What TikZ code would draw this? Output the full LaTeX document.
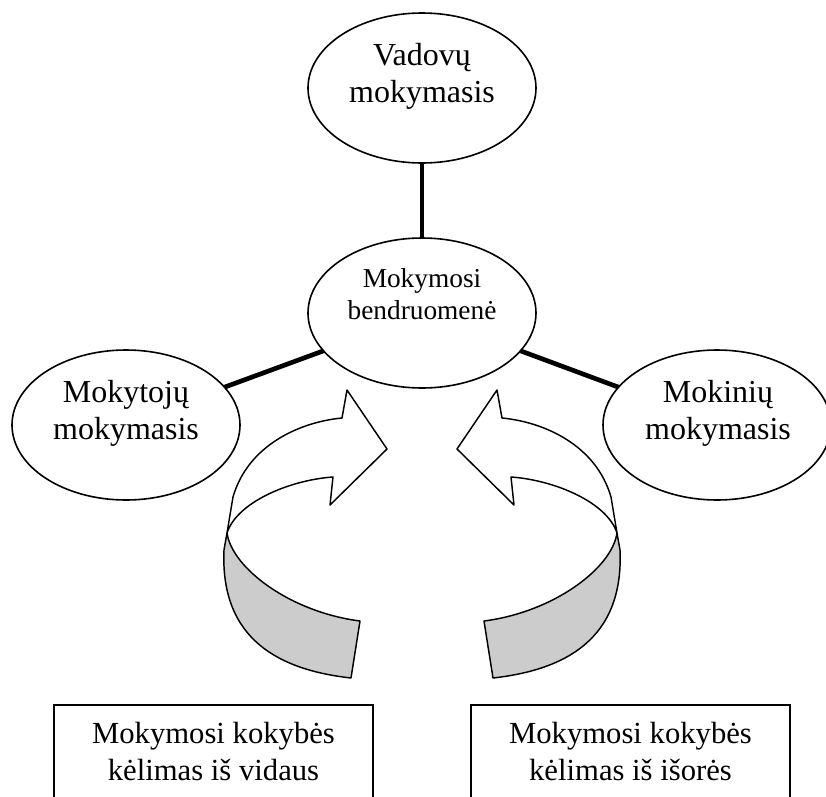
\documentclass[tikz,border=0pt]{standalone}
\usepackage{fontspec}
\setmainfont{Liberation Serif}
\usetikzlibrary{shapes.geometric}

\definecolor{bandgray}{gray}{0.8}

% curved ribbon arrow, axis at x = 0
\newcommand{\curvedarrow}{%
    \filldraw [ribbon, fill=bandgray] ( -195, 533 ) .. controls ( -190, 568 ) and ( -132, 612 ) .. ( -62, 621 )
        -- ( -71, 678 ) .. controls ( -142, 670 ) and ( -202, 640 ) .. ( -198, 550 ) -- cycle;
    \filldraw [ribbon, fill=white] ( -80, 418 ) .. controls ( -122, 422 ) and ( -174, 445 ) .. ( -189, 497 )
        -- ( -195, 533 ) .. controls ( -185, 502 ) and ( -132, 480 ) .. ( -89, 477 )
        -- ( -92, 505 ) -- ( -35, 449 ) -- ( -75, 390 ) -- cycle;
}

\begin{document}
\begin{tikzpicture}[x=0.75pt, y=-0.75pt,
    bubble/.style={draw, ellipse, line width=1.2pt, minimum width=171pt, minimum height=112.5pt, inner sep=0pt, outer sep=0pt},
    bigtext/.style={align=center, inner sep=0pt, font=\fontsize{24}{27.75}\selectfont},
    smalltext/.style={align=center, inner sep=0pt, font=\fontsize{20.5}{24}\selectfont},
    link/.style={line width=3.5pt},
    ribbon/.style={line width=1.1pt, line join=round},
    qbox/.style={draw, line width=1.1pt, minimum width=239.25pt, anchor=north, align=center, inner xsep=0pt, inner ysep=12.8pt, outer sep=0pt, font=\fontsize{23}{27.75}\selectfont}]
    \useasboundingbox ( 0, 0 ) rectangle ( 826, 797 );
    \clip ( 0, 0 ) rectangle ( 826, 797 );

    % elipses
    \node [bubble] (vad) at ( 422, 88 ) {};
    \node [bubble] (bend) at ( 422, 313 ) {};
    \node [bubble] (mokyt) at ( 126, 425 ) {};
    \node [bubble] (mokin) at ( 717, 425 ) {};

    \node [bigtext] (vadtxt) at ( 422, 76 ) {Vadovų\\mokymasis};
    \node [smalltext] (bendtxt) at ( 422, 294 ) {Mokymosi\\bendruomenė};
    \node [bigtext] (mokyttxt) at ( 126, 413 ) {Mokytojų\\mokymasis};
    \node [bigtext] (mokintxt) at ( 718, 413 ) {Mokinių\\mokymasis};

    % jungtys
    \draw [link] (vad) -- (bend);
    \draw [link] (bend.201) -- (mokyt.21);
    \draw [link] (bend.339) -- (mokin.159);

    % rodyklės
    \begin{scope}[shift={( 422, 0 )}]
        \curvedarrow
    \end{scope}
    \begin{scope}[shift={( 422, 0 )}, xscale=-1]
        \curvedarrow
    \end{scope}

    % stačiakampiai
    \node [qbox] (vidaus) at ( 213.5, 705 ) {Mokymosi kokybės\\kėlimas iš vidaus};
    \node [qbox] (isores) at ( 630.5, 705 ) {Mokymosi kokybės\\kėlimas iš išorės};
\end{tikzpicture}
\end{document}
